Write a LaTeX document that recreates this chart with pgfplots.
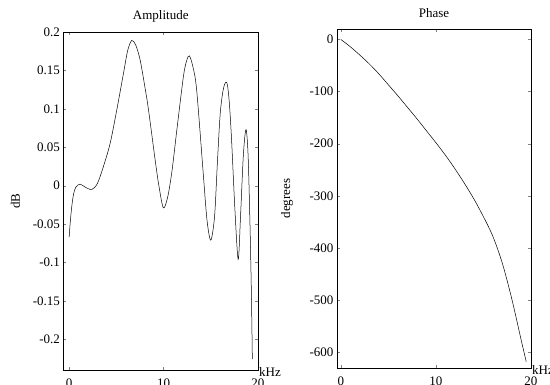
\documentclass[border=0pt]{standalone}
\usepackage{pgfplots}
\pgfplotsset{compat=1.18}
\usepackage{fontspec}
\setmainfont{Liberation Serif}
\newcommand{\f}{\fontsize{13}{15}\selectfont}
\pgfplotsset{
  myax/.style={
    scale only axis, anchor=south west, clip mode=individual,
    tick align=inside, major tick length=3pt,
    tick label style={font=\f},
    xticklabel style={yshift=-5pt},
    label style={font=\f},
    title style={font=\f, at={(axis description cs:0.5,1)}, anchor=center, yshift=10pt},
    axis line style={line width=0.6pt},
    xtick={0,10,20}, xticklabels={0,10,20},
  }
}
\begin{document}
\begin{tikzpicture}
\useasboundingbox (0,0) rectangle (550pt,385pt);
\begin{axis}[myax, at={(63.5pt,15pt)}, width=194.5pt, height=338pt,
  xmin=-0.6, xmax=20, ymin=-0.24, ymax=0.2,
  ytick={-0.2,-0.15,-0.1,-0.05,0,0.05,0.1,0.15,0.2},
  yticklabels={-0.2,-0.15,-0.1,-0.05,0,0.05,0.1,0.15,0.2},
  title={Amplitude},
  ylabel={dB},
  ylabel style={at={(axis description cs:-0.247,0.5)}, anchor=center},
]
\addplot[black, line width=0.5pt, smooth] coordinates {
(0,-0.067) (0.1,-0.05) (0.25,-0.03) (0.45,-0.012) (0.7,-0.002) (1.16,0.002) (1.7,-0.002)
(2.4,-0.005) (3.0,0.003) (3.63,0.025) (4.34,0.055) (5.05,0.099) (5.75,0.146) (6.2,0.176)
(6.63,0.189) (7.05,0.183) (7.51,0.164) (8.0,0.13) (8.4,0.099) (9.1,0.034) (9.5,0.0)
(9.98,-0.029) (10.45,-0.014) (10.9,0.02) (11.4,0.072) (12.1,0.142) (12.45,0.163) (12.73,0.169)
(13.1,0.155) (13.5,0.125) (14.2,0.016) (14.6,-0.045) (15.0,-0.071) (15.4,-0.04) (15.7,0.03)
(16.0,0.094) (16.35,0.127) (16.7,0.134) (16.95,0.11) (17.2,0.06) (17.55,-0.03) (17.9,-0.096)
(18.15,-0.04) (18.45,0.04) (18.73,0.073) (18.95,0.04) (19.15,-0.05) (19.3,-0.14) (19.4,-0.226)
};
\node[anchor=west, font=\f, inner sep=1pt, yshift=-2pt] at (axis description cs:1,0) {kHz};
\end{axis}
\begin{axis}[myax, at={(337pt,17pt)}, width=194pt, height=339pt,
  xmin=-0.4, xmax=20, ymin=-630, ymax=20,
  ytick={-600,-500,-400,-300,-200,-100,0},
  yticklabels={-600,-500,-400,-300,-200,-100,0},
  title={Phase},
  ylabel={degrees},
  ylabel style={at={(axis description cs:-0.258,0.5)}, anchor=center},
]
\addplot[black, line width=0.5pt, smooth] coordinates {
(0,0) (1,-14) (2,-30) (3,-47) (4,-66) (5,-87) (6,-108) (7,-130) (8,-152) (9,-175)
(10,-198) (11,-222) (12,-248) (13,-276) (14,-306) (15,-340) (16,-378) (17,-430)
(18,-499) (19,-579) (19.27,-600) (19.5,-618)
};
\node[anchor=west, font=\f, inner sep=1pt, yshift=-2pt] at (axis description cs:1,0) {kHz};
\end{axis}
\end{tikzpicture}
\end{document}
